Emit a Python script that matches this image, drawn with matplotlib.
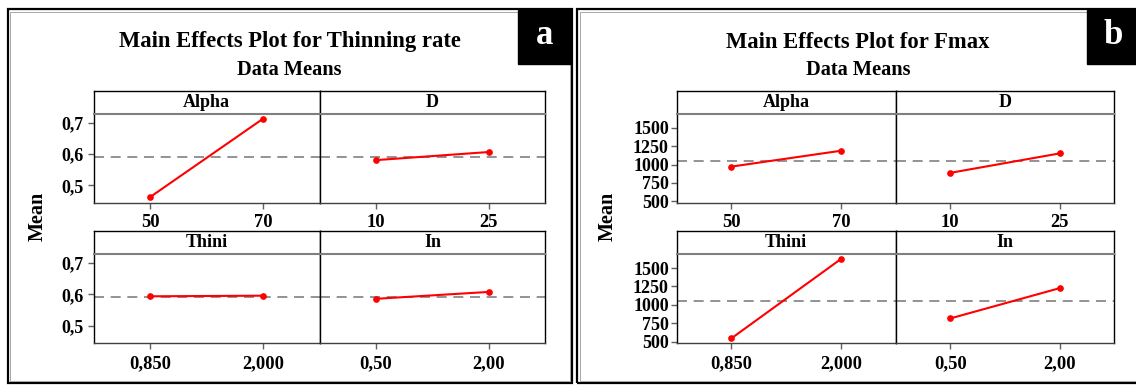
import matplotlib
matplotlib.use("Agg")
import matplotlib.pyplot as plt
from matplotlib.patches import Rectangle

plt.rcParams["font.family"] = ["Liberation Serif", "DejaVu Serif"]
plt.rcParams["font.weight"] = "bold"

W, H = 1136, 385

# factor names and the two levels of each factor
factors = ["Alpha", "D", "Thini", "In"]
levels = [["50", "70"], ["10", "25"], ["0,850", "2,000"], ["0,50", "2,00"]]

# main-effect means for thinning rate
thin_means = [[0.463, 0.714], [0.581, 0.607], [0.594, 0.596], [0.586, 0.608]]
thin_grand = 0.5926
thin_ticks = [0.5, 0.6, 0.7]
thin_ticklabels = ["0,5", "0,6", "0,7"]

# main-effect means for Fmax
fmax_means = [[973, 1189], [888, 1153], [546, 1621], [817, 1227]]
fmax_grand = 1054
fmax_ticks = [500, 750, 1000, 1250, 1500]
fmax_ticklabels = ["500", "750", "1000", "1250", "1500"]

fig = plt.figure(figsize=(W / 100, H / 100), dpi=100)


def px_axes(x0, y0, x1, y1):
    return fig.add_axes([x0 / W, 1 - y1 / H, (x1 - x0) / W, (y1 - y0) / H])


def px_rect(x0, y0, x1, y1, **kw):
    fig.patches.append(Rectangle((x0 / W, 1 - y1 / H), (x1 - x0) / W, (y1 - y0) / H,
                                 transform=fig.transFigure, **kw))


def fig_text(x, y, s, **kw):
    fig.text(x / W, 1 - y / H, s, **kw)


# rows: (header top, header bottom/plot top, plot bottom)
rows = [(90.5, 114, 202.5), (231, 254, 343)]


def draw_panel(cols, means, grand, ylim, ticks, ticklabels, title, center, label_x,
               frame, letter_box, letter, ypad):
    fx0, fx1 = frame
    px_rect(fx0, 9, fx1, 383, fill=False, edgecolor="black", lw=1.6, zorder=5)
    px_rect(fx0 + 2.5, 11.5, fx1 - 2.5, 380.5, fill=False, edgecolor="#9a9a9a", lw=0.6, zorder=5)
    bx0, bx1 = letter_box
    px_rect(bx0, 10, bx1, 64, facecolor="black", edgecolor="black", zorder=6)
    fig_text((bx0 + bx1) / 2, 43.5, letter, color="white", fontsize=25,
             ha="center", va="baseline", zorder=7)

    fig_text(center, 42, title, fontsize=16.3, ha="center", va="center")
    fig_text(center, 70, "Data Means", fontsize=14.7, ha="center", va="center")
    fig_text(label_x, (rows[0][0] + rows[1][2]) / 2, "Mean", fontsize=14.5,
             rotation=90, ha="center", va="center")

    for i, name in enumerate(factors):
        r, c = divmod(i, 2)
        top, mid, bot = rows[r]
        x0, x1 = cols[c], cols[c + 1]

        hdr = px_axes(x0, top, x1, mid)
        hdr.set_xticks([])
        hdr.set_yticks([])
        hdr.spines["bottom"].set_visible(False)
        for s in ["top", "left", "right"]:
            hdr.spines[s].set_linewidth(1.0)
        hdr.text(0.5, 0.5, name, transform=hdr.transAxes, fontsize=13,
                 ha="center", va="center")

        ax = px_axes(x0, mid, x1, bot)
        ax.plot([1, 2], means[i], color="red", lw=1.5, marker="o", ms=3.8, zorder=3)
        ax.axhline(grand, color="#808080", lw=1.2, dashes=(6, 4), zorder=2)
        ax.set_xlim(0.5, 2.5)
        ax.set_ylim(*ylim)
        ax.set_xticks([1, 2])
        ax.set_xticklabels(levels[i], fontsize=13.3)
        ax.tick_params(axis="x", length=4, width=1, color="#606060", pad=4.5)
        if c == 0:
            ax.set_yticks(ticks)
            ax.set_yticklabels(ticklabels, fontsize=13)
            ax.tick_params(axis="y", length=4, width=1, color="#606060", pad=ypad)
        else:
            ax.set_yticks([])
        ax.spines["top"].set_color("#7f7f7f")
        ax.spines["top"].set_linewidth(1.5)
        ax.spines["bottom"].set_color("#404040")
        for s in ["left", "right", "bottom"]:
            ax.spines[s].set_linewidth(1.0)


draw_panel([94, 319.5, 545.3], thin_means, thin_grand, (0.445, 0.729),
           thin_ticks, thin_ticklabels, "Main Effects Plot for Thinning rate",
           289.5, 38, (7.5, 572), (518, 571), "a", 3.5)
draw_panel([676.5, 895.6, 1114.3], fmax_means, fmax_grand, (484, 1690),
           fmax_ticks, fmax_ticklabels, "Main Effects Plot for Fmax",
           858, 608, (577, 1142), (1087, 1140), "b", 1.5)

fig.savefig("out.png", dpi=100, facecolor="white")
